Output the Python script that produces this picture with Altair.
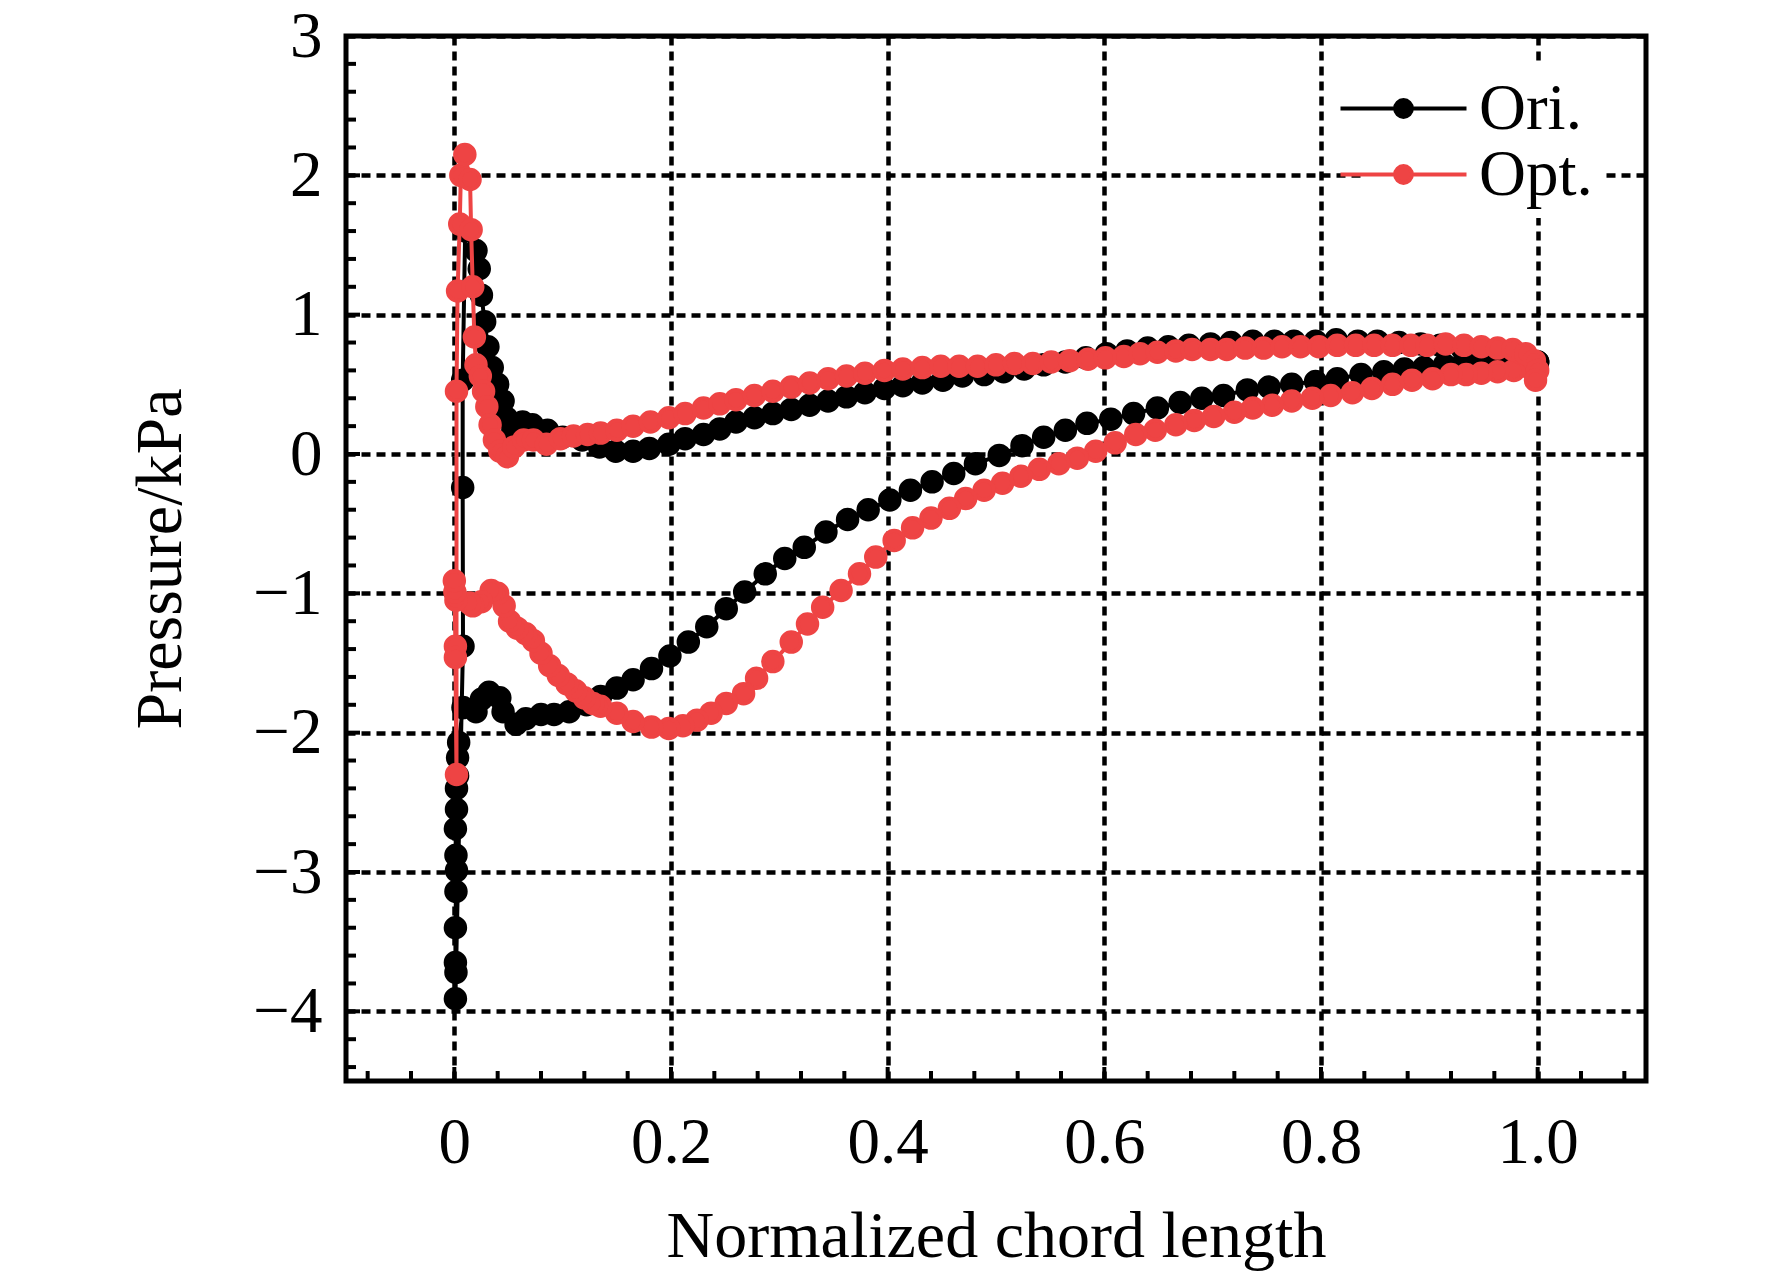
import altair as alt
import pandas as pd

# ---------------- data ----------------
SERIES = ["Ori.", "Opt."]
COLORS = ["#000000", "#EE4444"]

# Ori. : suction (lower) side, leading edge -> trailing edge (incl. leading-edge cluster)
ori_low_x = [0.0077, 0.0077, 0.008, 0.001, 0.0015, 0.001, 0.001, 0.0015, 0.002, 0.0015, 0.001, 0.002, 0.002,
             0.003, 0.003, 0.004, 0.008, 0.020, 0.025, 0.032, 0.042, 0.045, 0.057, 0.066, 0.080, 0.092,
             0.106, 0.122, 0.135, 0.150, 0.165, 0.182, 0.199, 0.216, 0.233, 0.251, 0.268, 0.287, 0.305,
             0.323, 0.343, 0.363, 0.382, 0.402, 0.421, 0.441, 0.461, 0.481, 0.503, 0.524, 0.544, 0.564,
             0.584, 0.606, 0.627, 0.649, 0.670, 0.690, 0.710, 0.732, 0.752, 0.773, 0.795, 0.815, 0.837,
             0.858, 0.877, 0.895, 0.914, 0.932, 0.951, 0.968, 0.985, 1.000]
ori_low_y = [0.53, -0.24, -1.38, -3.91, -3.72, -3.65, -3.40, -3.14, -2.99, -2.88, -2.69, -2.55, -2.40,
             -2.31, -2.18, -2.07, -1.82, -1.85, -1.76, -1.71, -1.75, -1.85, -1.94, -1.90, -1.87, -1.87,
             -1.85, -1.80, -1.74, -1.68, -1.62, -1.54, -1.45, -1.35, -1.24, -1.11, -0.99, -0.86, -0.75,
             -0.67, -0.56, -0.47, -0.40, -0.33, -0.26, -0.20, -0.14, -0.07, -0.01, 0.06, 0.12, 0.17,
             0.22, 0.25, 0.29, 0.33, 0.37, 0.40, 0.42, 0.46, 0.48, 0.50, 0.52, 0.54, 0.57,
             0.59, 0.61, 0.62, 0.64, 0.66, 0.66, 0.67, 0.67, 0.66]

# Ori. : pressure (upper) side, stagnation -> trailing edge
ori_up_x = [0.010, 0.020, 0.023, 0.025, 0.028, 0.031, 0.035, 0.040, 0.045, 0.048, 0.054, 0.063, 0.072,
            0.086, 0.100, 0.118, 0.134, 0.149, 0.165, 0.180, 0.198, 0.213, 0.230, 0.245, 0.260, 0.277,
            0.294, 0.311, 0.328, 0.345, 0.362, 0.379, 0.397, 0.414, 0.432, 0.451, 0.469, 0.489, 0.507,
            0.526, 0.544, 0.564, 0.583, 0.602, 0.621, 0.640, 0.659, 0.678, 0.698, 0.717, 0.737, 0.757,
            0.775, 0.795, 0.814, 0.834, 0.852, 0.872, 0.892, 0.910, 0.930, 0.951, 0.969, 0.988, 1.000]
ori_up_y = [1.60, 1.46, 1.33, 1.14, 0.95, 0.77, 0.62, 0.50, 0.38, 0.26, 0.17, 0.23, 0.21,
            0.17, 0.12, 0.10, 0.05, 0.02, 0.02, 0.04, 0.07, 0.11, 0.14, 0.18, 0.23, 0.26,
            0.29, 0.32, 0.35, 0.38, 0.41, 0.44, 0.47, 0.49, 0.51, 0.53, 0.56, 0.57, 0.59,
            0.61, 0.64, 0.66, 0.69, 0.72, 0.74, 0.76, 0.77, 0.78, 0.79, 0.80, 0.81, 0.81,
            0.81, 0.81, 0.82, 0.81, 0.81, 0.80, 0.79, 0.78, 0.76, 0.73, 0.72, 0.69, 0.66]

# Opt. : suction (lower) side, leading edge -> trailing edge (incl. leading-edge cluster)
opt_low_x = [0.002, 0.001, 0.001, 0.000, 0.0005, 0.0015, 0.014, 0.017, 0.025, 0.034, 0.040, 0.046, 0.051,
             0.058, 0.066, 0.073, 0.080, 0.088, 0.096, 0.104, 0.112, 0.120, 0.128, 0.135, 0.150, 0.165,
             0.182, 0.198, 0.211, 0.224, 0.237, 0.251, 0.267, 0.279, 0.294, 0.311, 0.326, 0.340, 0.357,
             0.374, 0.389, 0.406, 0.423, 0.440, 0.457, 0.472, 0.489, 0.506, 0.523, 0.540, 0.558, 0.575,
             0.592, 0.610, 0.629, 0.647, 0.666, 0.683, 0.701, 0.720, 0.737, 0.755, 0.773, 0.792, 0.809,
             0.829, 0.847, 0.866, 0.884, 0.903, 0.920, 0.934, 0.948, 0.963, 0.978, 0.994]
opt_low_y = [-2.30, -1.46, -1.38, -0.91, -0.99, -1.05, -1.07, -1.09, -1.06, -0.98, -1.00, -1.09, -1.20,
             -1.25, -1.29, -1.34, -1.43, -1.52, -1.59, -1.65, -1.70, -1.75, -1.79, -1.81, -1.86, -1.92,
             -1.96, -1.97, -1.95, -1.91, -1.86, -1.79, -1.72, -1.61, -1.49, -1.35, -1.22, -1.10, -0.98,
             -0.86, -0.74, -0.62, -0.53, -0.46, -0.39, -0.32, -0.26, -0.21, -0.16, -0.11, -0.07, -0.03,
             0.02, 0.08, 0.14, 0.17, 0.21, 0.24, 0.27, 0.30, 0.33, 0.35, 0.38, 0.40, 0.42,
             0.44, 0.47, 0.50, 0.53, 0.54, 0.57, 0.57, 0.58, 0.59, 0.60, 0.61]

# Opt. : pressure (upper) side, stagnation -> trailing edge
opt_up_x = [0.002, 0.003, 0.005, 0.006, 0.0097, 0.0145, 0.0155, 0.017, 0.0185, 0.020, 0.024, 0.027, 0.030,
            0.033, 0.037, 0.042, 0.049, 0.055, 0.064, 0.073, 0.085, 0.098, 0.110, 0.123, 0.135, 0.150,
            0.165, 0.181, 0.198, 0.213, 0.230, 0.245, 0.260, 0.277, 0.294, 0.311, 0.328, 0.345, 0.362,
            0.379, 0.397, 0.414, 0.432, 0.449, 0.466, 0.483, 0.500, 0.517, 0.534, 0.551, 0.568, 0.585,
            0.601, 0.618, 0.633, 0.649, 0.666, 0.681, 0.698, 0.713, 0.730, 0.747, 0.764, 0.781, 0.798,
            0.815, 0.832, 0.849, 0.866, 0.883, 0.898, 0.915, 0.932, 0.948, 0.963, 0.977, 0.989, 0.997,
            1.000, 0.998]
opt_up_y = [0.45, 1.17, 1.65, 2.00, 2.15, 1.97, 1.61, 1.20, 0.84, 0.64, 0.56, 0.45, 0.34,
            0.21, 0.10, 0.02, -0.02, 0.05, 0.10, 0.10, 0.07, 0.11, 0.13, 0.14, 0.15, 0.17,
            0.20, 0.23, 0.26, 0.29, 0.33, 0.36, 0.39, 0.42, 0.45, 0.48, 0.51, 0.54, 0.56,
            0.58, 0.60, 0.61, 0.62, 0.63, 0.63, 0.63, 0.64, 0.65, 0.65, 0.66, 0.67, 0.68,
            0.69, 0.70, 0.72, 0.73, 0.74, 0.75, 0.75, 0.75, 0.76, 0.76, 0.77, 0.77, 0.77,
            0.78, 0.78, 0.78, 0.78, 0.78, 0.78, 0.79, 0.78, 0.77, 0.76, 0.75, 0.72, 0.67,
            0.60, 0.53]

# axis tick values
X_MAJOR = [0, 0.2, 0.4, 0.6, 0.8, 1.0]
X_MINOR = [round(k * 0.04, 2) for k in range(-2, 28) if k % 5 != 0]
Y_MAJOR = [-4, -3, -2, -1, 0, 1, 2, 3]
Y_MINOR = [round(k * 0.2, 1) for k in range(-22, 15) if k % 5 != 0]

# ---------------- build tables ----------------
rows = []
for name, lx, ly, ux, uy in [("Ori.", ori_low_x, ori_low_y, ori_up_x, ori_up_y),
                             ("Opt.", opt_low_x, opt_low_y, opt_up_x, opt_up_y)]:
    px = list(reversed(lx)) + list(ux)
    py = list(reversed(ly)) + list(uy)
    for i, (a, b) in enumerate(zip(px, py)):
        rows.append({"x": a, "y": b, "series": name, "order": i})
df = pd.DataFrame(rows)

W, H = 1300, 1045
FONT = "Liberation Serif"
xscale = alt.Scale(domain=[-0.1, 1.1], nice=False, zero=False)
yscale = alt.Scale(domain=[-4.5, 3], nice=False, zero=False)
cscale = alt.Scale(domain=SERIES, range=COLORS)

x_axis = alt.Axis(values=X_MAJOR, labelExpr="datum.value === 0 ? '0' : format(datum.value, '.1f')",
                  grid=True, gridDash=[9, 6], gridColor="black", gridWidth=4.5, gridOpacity=1,
                  ticks=False, domain=False, labelFont=FONT, labelFontSize=65, labelColor="black",
                  labelPadding=30, title="Normalized chord length", titleFont=FONT, titleFontSize=66,
                  titleFontWeight="normal", titleColor="black", titlePadding=29)
y_axis = alt.Axis(values=Y_MAJOR, grid=True, gridDash=[9, 6], gridColor="black", gridWidth=4.5,
                  gridOpacity=1, ticks=False, domain=False, labelFont=FONT, labelFontSize=65,
                  labelColor="black", labelPadding=24, title="Pressure/kPa", titleFont=FONT,
                  titleFontSize=66, titleFontWeight="normal", titleColor="black", titlePadding=58)

# legend symbol: a line with a dot in the middle (path spans 3x the nominal symbol box)
LEG_PATH = "M-3,0L3,0M-0.4,0A0.4,0.4,0,1,1,0.4,0A0.4,0.4,0,1,1,-0.4,0Z"
legend = alt.Legend(title=None, orient="none", legendX=1015, legendY=30, symbolType=LEG_PATH,
                    symbolSize=1764, symbolStrokeWidth=4, labelFont=FONT, labelFontSize=65,
                    labelColor="black", labelOffset=43, rowPadding=0, padding=10,
                    fillColor="white")

base = alt.Chart(df)
layers = []
for s in SERIES:
    sub = base.transform_filter(alt.datum.series == s)
    line = sub.mark_line(strokeWidth=4).encode(
        x=alt.X("x:Q", scale=xscale, axis=x_axis),
        y=alt.Y("y:Q", scale=yscale, axis=y_axis),
        stroke=alt.Stroke("series:N", scale=cscale, legend=legend),
        order="order:Q",
    )
    pts = sub.mark_point(filled=True, size=380, strokeWidth=4, opacity=1).encode(
        x=alt.X("x:Q", scale=xscale, axis=x_axis),
        y=alt.Y("y:Q", scale=yscale, axis=y_axis),
        fill=alt.Fill("series:N", scale=cscale, legend=legend),
        stroke=alt.Stroke("series:N", scale=cscale, legend=legend),
    )
    layers += [line, pts]

# inward ticks
def xticks(vals, length):
    return alt.Chart(pd.DataFrame({"x": vals})).mark_rule(color="black", strokeWidth=4).encode(
        x=alt.X("x:Q", scale=xscale, axis=x_axis), y=alt.value(H), y2=alt.value(H - length))

def yticks(vals, length):
    return alt.Chart(pd.DataFrame({"y": vals})).mark_rule(color="black", strokeWidth=4).encode(
        y=alt.Y("y:Q", scale=yscale, axis=y_axis), x=alt.value(0), x2=alt.value(length))

layers += [xticks(X_MAJOR, 14), xticks(X_MINOR, 10), yticks(Y_MAJOR, 14), yticks(Y_MINOR, 10)]

chart = alt.layer(*layers).properties(
    width=W, height=H,
    autosize=alt.AutoSizeParams(type="none"),
    padding={"left": 338, "top": 28, "right": 110, "bottom": 200},
    background="white",
).configure_view(stroke="black", strokeWidth=5)

chart.save("out.html", embed_options={"renderer": "svg", "actions": False})
